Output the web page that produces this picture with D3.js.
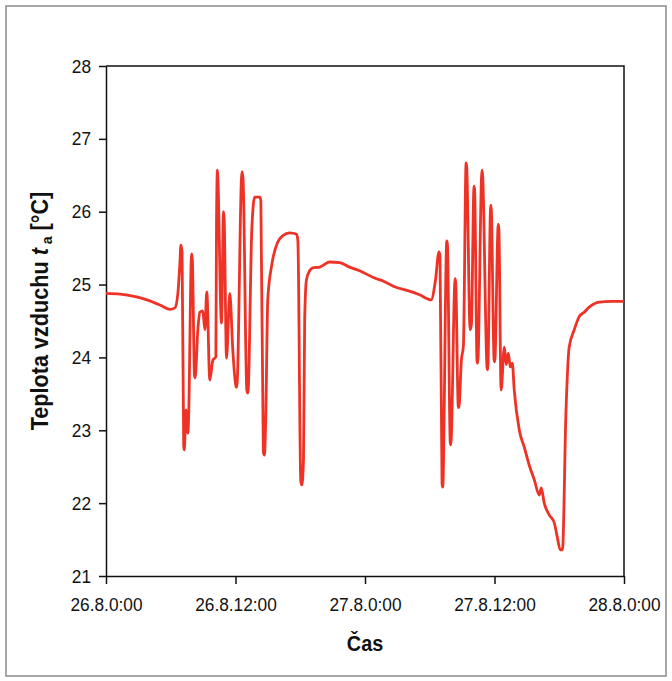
<!DOCTYPE html>
<html>
<head>
<meta charset="utf-8">
<script src="https://cdn.jsdelivr.net/npm/d3@7"></script>
<style>
  body { margin: 0; background: #fff; }
  svg text { font-family: "Liberation Sans", Arial, sans-serif; }
</style>
</head>
<body>
<div class="chart"></div>
<script>
// hours since 26.8. 0:00
const hours = [0, 1.3, 2.5, 3.79, 5.0, 5.92, 6.38, 6.66, 6.85, 6.94, 7.05, 7.2, 7.26, 7.4, 7.59, 7.66, 7.93, 8.0, 8.2, 8.26, 8.51, 8.7, 8.97, 9.16, 9.34, 9.62, 9.9, 10.18, 10.24, 10.32, 10.7, 10.89, 10.95, 11.17, 11.47, 11.75, 12.05, 12.12, 12.6, 12.7, 13.05, 13.15, 13.51, 13.78, 14.25, 14.35, 14.58, 14.68, 14.8, 14.99, 15.36, 15.91, 16.37, 17.02, 17.67, 17.78, 18.05, 18.15, 18.3, 18.41, 18.57, 18.87, 19.15, 19.8, 20.72, 21.65, 22.57, 23.5, 24.88, 25.81, 26.73, 28.12, 29.05, 30.13, 30.53, 30.85, 30.95, 31.14, 31.2, 31.58, 31.64, 31.9, 31.95, 32.35, 32.41, 32.64, 32.7, 32.93, 33.12, 33.37, 33.43, 33.74, 33.86, 34.1, 34.16, 34.38, 34.44, 34.84, 34.9, 35.31, 35.37, 35.65, 35.71, 35.96, 36.02, 36.35, 36.41, 36.61, 36.91, 37.09, 37.28, 37.46, 37.65, 37.83, 38.3, 38.76, 39.22, 39.69, 40.15, 40.33, 40.61, 41.07, 41.54, 41.81, 42.09, 42.3, 42.62, 42.92, 43.39, 43.85, 44.31, 44.77, 45.7, 46.81, 47.92, 48];
const temps = [24.88, 24.87, 24.84, 24.79, 24.72, 24.66, 24.68, 24.88, 25.3, 25.54, 25.45, 22.78, 22.73, 23.28, 22.96, 23.2, 25.42, 25.35, 23.75, 23.72, 24.38, 24.62, 24.64, 24.38, 24.9, 23.69, 23.96, 24.01, 25.8, 26.57, 24.47, 26.0, 25.9, 23.99, 24.88, 24.1, 23.6, 23.59, 26.55, 26.45, 23.55, 23.51, 25.75, 26.2, 26.2, 26.15, 22.7, 22.66, 23.14, 24.79, 25.27, 25.58, 25.67, 25.71, 25.69, 25.6, 22.3, 22.25, 22.6, 24.51, 25.06, 25.19, 25.23, 25.24, 25.31, 25.3, 25.24, 25.19, 25.09, 25.04, 24.97, 24.91, 24.86, 24.79, 25.06, 25.45, 25.4, 22.26, 22.22, 25.6, 25.55, 22.83, 22.8, 25.08, 25.02, 23.33, 23.31, 23.96, 24.17, 26.67, 26.6, 24.38, 24.45, 26.35, 26.3, 23.95, 23.92, 26.57, 26.5, 23.86, 23.83, 26.09, 26.02, 23.97, 23.94, 25.83, 25.75, 23.55, 24.14, 23.9, 24.06, 23.87, 23.92, 23.55, 23.0, 22.77, 22.52, 22.32, 22.11, 22.21, 22.0, 21.84, 21.73, 21.54, 21.36, 21.36, 23.24, 24.14, 24.38, 24.56, 24.62, 24.69, 24.76, 24.77, 24.77, 24.77];

const xTicks = [0, 12, 24, 36, 48];
const xTickLabels = ["26.8.0:00", "26.8.12:00", "27.8.0:00", "27.8.12:00", "28.8.0:00"];
const yTicks = [21, 22, 23, 24, 25, 26, 27, 28];

const width = 672;
const height = 681;
const margin = { top: 66, right: 48, bottom: 105, left: 106 };
const squeeze = 0.91; // the original font is a narrow one

const svg = d3.select(".chart")
    .append("svg")
    .attr("width", width)
    .attr("height", height);

// outer frame
svg.append("rect")
    .attr("x", 6)
    .attr("y", 6)
    .attr("width", 660)
    .attr("height", 670)
    .style("fill", "none")
    .style("stroke", "#8a8a8a")
    .style("stroke-width", 1.5);

const x = d3.scaleLinear()
    .domain([0, 48])
    .range([margin.left, width - margin.right]);

const y = d3.scaleLinear()
    .domain([21, 28])
    .range([height - margin.bottom, margin.top]);

const xAxis = svg.append("g")
    .attr("transform", "translate(0," + (height - margin.bottom) + ")")
    .call(d3.axisBottom(x)
        .tickValues(xTicks)
        .tickFormat(function(d, i) { return xTickLabels[i]; })
        .tickSizeInner(8)
        .tickSizeOuter(0)
        .tickPadding(14));

const yAxis = svg.append("g")
    .attr("transform", "translate(" + margin.left + ",0)")
    .call(d3.axisLeft(y)
        .tickValues(yTicks)
        .tickFormat(d3.format("d"))
        .tickSizeInner(7)
        .tickSizeOuter(0)
        .tickPadding(8));

[xAxis, yAxis].forEach(function(a) {
  a.select(".domain").style("stroke", "#111").style("stroke-width", 1.5);
  a.selectAll(".tick line").style("stroke", "#111").style("stroke-width", 1.5);
  a.selectAll(".tick text")
      .style("font-size", "19px")
      .style("fill", "#111")
      .attr("x", function() { return +d3.select(this).attr("x") / squeeze || 0; })
      .attr("transform", "scale(" + squeeze + ",1)");
});

// top and right frame lines
svg.append("path")
    .attr("d", "M" + x(0) + "," + y(28) + "H" + x(48) + "V" + y(21))
    .style("fill", "none")
    .style("stroke", "#111")
    .style("stroke-width", 1.5);

const points = hours.map(function(h, i) { return [h, temps[i]]; });

const line = d3.line()
    .x(d => x(d[0]))
    .y(d => y(d[1]))
    .curve(d3.curveMonotoneX);

svg.append("path")
    .datum(points)
    .attr("d", line)
    .style("fill", "none")
    .style("stroke", "#ee3226")
    .style("stroke-width", 2.8)
    .style("stroke-linejoin", "round");

// axis titles
svg.append("text")
    .attr("transform", "translate(" + (x(0) + x(48)) / 2 + ",651) scale(0.9,1)")
    .attr("text-anchor", "middle")
    .style("font-size", "22px")
    .style("font-weight", "bold")
    .style("fill", "#111")
    .text("Čas");

const yTitle = svg.append("text")
    .attr("transform", "translate(48,311) rotate(-90) scale(0.94,1)")
    .attr("text-anchor", "middle")
    .style("font-size", "23px")
    .style("font-weight", "bold")
    .style("fill", "#111");

yTitle.append("tspan").text("Teplota vzduchu ");
yTitle.append("tspan").style("font-style", "italic").text("t");
yTitle.append("tspan").attr("dy", 4).style("font-size", "15px").text(" a");
yTitle.append("tspan").attr("dy", -4).text(" [°C]");
</script>
</body>
</html>
